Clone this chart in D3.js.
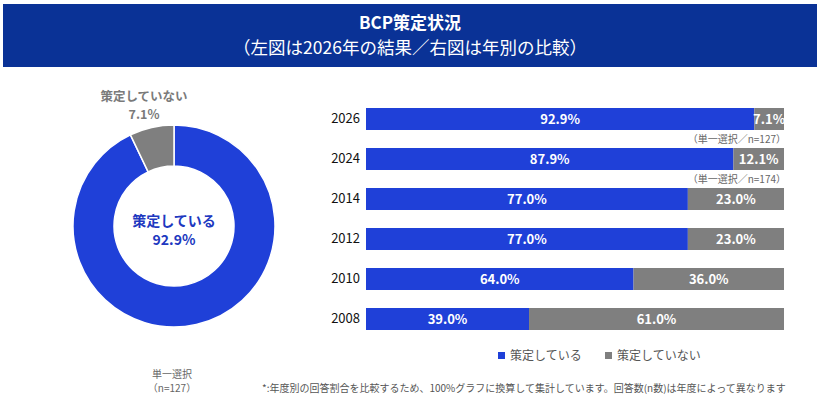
<!DOCTYPE html>
<html>
<head>
<meta charset="utf-8">
<script src="https://cdn.jsdelivr.net/npm/d3@7"></script>
<style>
  body { margin: 0; background: #fff; }
  text { font-family: "Noto Sans CJK JP", "Noto Sans", sans-serif; }
</style>
</head>
<body>
<script>
// data
const years = ["2026", "2024", "2014", "2012", "2010", "2008"];
const adopted = [92.9, 87.9, 77.0, 77.0, 64.0, 39.0];
const notAdopted = [7.1, 12.1, 23.0, 23.0, 36.0, 61.0];
const seriesNames = ["策定している", "策定していない"];
const donutValues = [92.9, 7.1];
const sampleNotes = { "2026": "（単一選択／n=127）", "2024": "（単一選択／n=174）" };

const width = 820, height = 400;
const blue = "#1f40d8", gray = "#7f7f7f";

const svg = d3.select("body").append("svg")
  .attr("width", width)
  .attr("height", height);

// --- header ---
svg.append("rect")
  .attr("x", 3).attr("y", 4)
  .attr("width", 814).attr("height", 63)
  .attr("fill", "#0a3296");
svg.append("text")
  .attr("x", 410).attr("y", 29)
  .attr("text-anchor", "middle")
  .attr("fill", "#fff")
  .attr("font-size", 17).attr("font-weight", "bold")
  .text("BCP策定状況");
svg.append("text")
  .attr("x", 410).attr("y", 54)
  .attr("text-anchor", "middle")
  .attr("fill", "#fff")
  .attr("font-size", 17.5)
  .text("（左図は2026年の結果／右図は年別の比較）");

// --- donut ---
const cx = 174, cy = 226;
const pie = d3.pie().sort(null).value(d => d);
const arc = d3.arc().innerRadius(60).outerRadius(101);
const donut = svg.append("g").attr("transform", `translate(${cx},${cy})`);
donut.selectAll("path")
  .data(pie(donutValues))
  .enter().append("path")
  .attr("d", arc)
  .attr("fill", (d, i) => i === 0 ? blue : gray)
  .attr("stroke", "#fff")
  .attr("stroke-width", 1.5);

donut.append("text")
  .attr("y", 0).attr("text-anchor", "middle")
  .attr("fill", "#2038c0").attr("font-size", 14).attr("font-weight", "bold")
  .text(seriesNames[0]);
donut.append("text")
  .attr("y", 19).attr("text-anchor", "middle")
  .attr("fill", "#2038c0").attr("font-size", 14).attr("font-weight", "bold")
  .text(d3.format(".1f")(donutValues[0]) + "%");

svg.append("text")
  .attr("x", 144).attr("y", 101).attr("text-anchor", "middle")
  .attr("fill", "#7a7a7a").attr("font-size", 12.5).attr("font-weight", "bold")
  .text(seriesNames[1]);
svg.append("text")
  .attr("x", 144).attr("y", 119).attr("text-anchor", "middle")
  .attr("fill", "#7a7a7a").attr("font-size", 12.5).attr("font-weight", "bold")
  .text(d3.format(".1f")(donutValues[1]) + "%");

svg.append("text")
  .attr("x", 172).attr("y", 378).attr("text-anchor", "middle")
  .attr("fill", "#666").attr("font-size", 10)
  .text("単一選択");
svg.append("text")
  .attr("x", 172).attr("y", 392).attr("text-anchor", "middle")
  .attr("fill", "#666").attr("font-size", 10)
  .text("（n=127）");

// --- stacked bars ---
const xScale = d3.scaleLinear().domain([0, 100]).range([366, 784]);
const yScale = d3.scaleBand().domain(years).range([99, 339]).paddingInner(0.45).paddingOuter(0.225);

const rows = years.map((y, i) => ({ year: y, a: adopted[i], b: notAdopted[i] }));
const bars = svg.append("g");

bars.selectAll("rect.a")
  .data(rows).enter().append("rect")
  .attr("x", xScale(0))
  .attr("y", d => yScale(d.year))
  .attr("width", d => xScale(d.a) - xScale(0))
  .attr("height", yScale.bandwidth())
  .attr("fill", blue);
bars.selectAll("rect.b")
  .data(rows).enter().append("rect")
  .attr("x", d => xScale(d.a))
  .attr("y", d => yScale(d.year))
  .attr("width", d => xScale(d.a + d.b) - xScale(d.a))
  .attr("height", yScale.bandwidth())
  .attr("fill", gray);

const fmt = v => d3.format(".1f")(v) + "%";
bars.selectAll("text.a")
  .data(rows).enter().append("text")
  .attr("x", d => (xScale(0) + xScale(d.a)) / 2)
  .attr("y", d => yScale(d.year) + yScale.bandwidth() / 2 + 5)
  .attr("text-anchor", "middle")
  .attr("fill", "#fff").attr("font-size", 13).attr("font-weight", "bold")
  .text(d => fmt(d.a));
bars.selectAll("text.b")
  .data(rows).enter().append("text")
  .attr("x", d => (xScale(d.a) + xScale(d.a + d.b)) / 2)
  .attr("y", d => yScale(d.year) + yScale.bandwidth() / 2 + 5)
  .attr("text-anchor", "middle")
  .attr("fill", "#fff").attr("font-size", 13).attr("font-weight", "bold")
  .text(d => fmt(d.b));

// year labels
const yAxis = svg.append("g")
  .attr("transform", `translate(${xScale(0)},0)`)
  .call(d3.axisLeft(yScale).tickSize(0).tickPadding(6));
yAxis.select(".domain").remove();
yAxis.selectAll("text")
  .attr("font-family", "\"Noto Sans CJK JP\", sans-serif")
  .attr("font-size", 13).attr("fill", "#111");

// sample notes under bars
years.filter(y => sampleNotes[y]).forEach(y => {
  svg.append("text")
    .attr("x", xScale(100) + 2)
    .attr("y", yScale(y) + yScale.bandwidth() + 13)
    .attr("text-anchor", "end")
    .attr("fill", "#666").attr("font-size", 10)
    .text(sampleNotes[y]);
});

// legend
const legend = svg.append("g").attr("transform", "translate(498,356)");
seriesNames.forEach((name, i) => {
  const g = legend.append("g").attr("transform", `translate(${i * 107},0)`);
  g.append("rect").attr("x", 0).attr("y", -4).attr("width", 7).attr("height", 7)
    .attr("fill", i === 0 ? blue : gray);
  g.append("text").attr("x", 12).attr("y", 4)
    .attr("fill", "#555").attr("font-size", 12)
    .text(name);
});

// footnote
svg.append("text")
  .attr("x", 262).attr("y", 392)
  .attr("fill", "#555").attr("font-size", 10)
  .text("*:年度別の回答割合を比較するため、100%グラフに換算して集計しています。回答数(n数)は年度によって異なります");
</script>
</body>
</html>
